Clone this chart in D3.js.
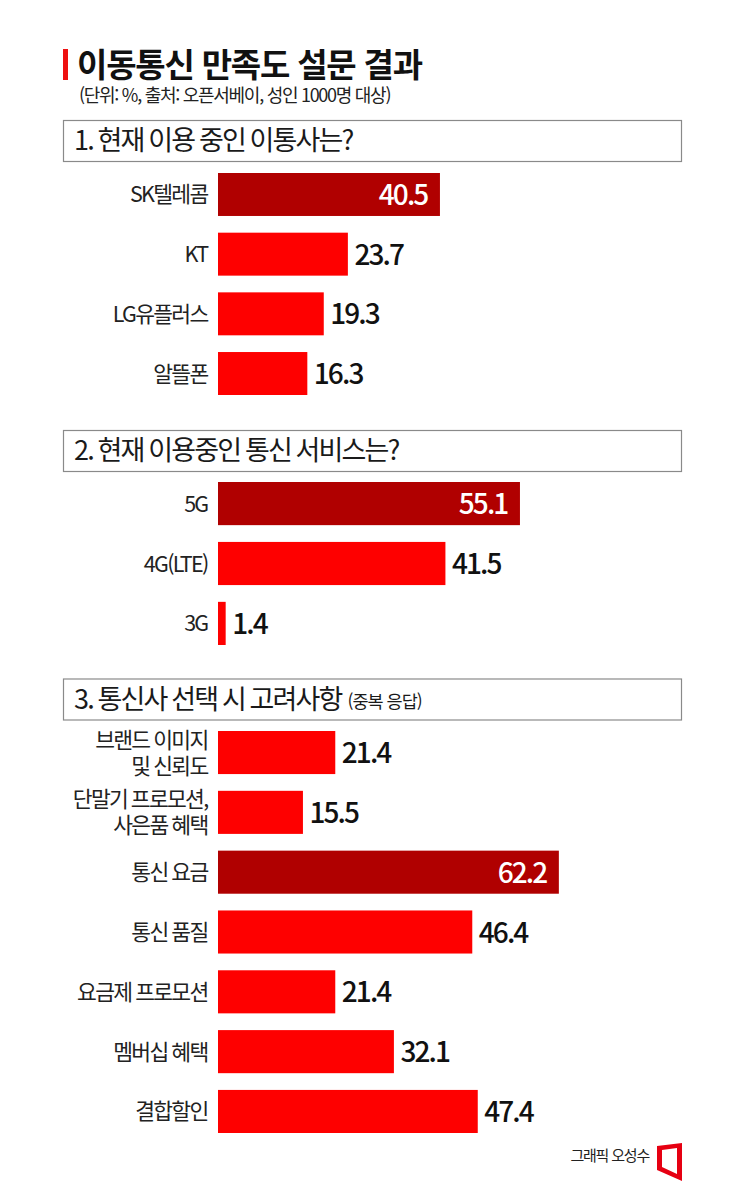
<!DOCTYPE html>
<html lang="ko"><head><meta charset="utf-8">
<script src="https://cdn.jsdelivr.net/npm/d3@7"></script>
<style>
html,body{margin:0;padding:0;background:#fff}
svg{display:block}
text{font-family:"Noto Sans CJK KR","Noto Sans",sans-serif}
</style></head><body>
<div id="chart"></div>
<script>
const titleText = "이동통신 만족도 설문 결과";
const subtitleText = "(단위: %, 출처: 오픈서베이, 성인 1000명 대상)";
const creditText = "그래픽 오성수";

const headers1 = ["1. 현재 이용 중인 이통사는?"];
const cats1 = ["SK텔레콤","KT","LG유플러스","알뜰폰"];
const vals1 = [40.5,23.7,19.3,16.3];
const headers2 = ["2. 현재 이용중인 통신 서비스는?"];
const cats2 = ["5G","4G(LTE)","3G"];
const vals2 = [55.1,41.5,1.4];
const headers3 = ["3. 통신사 선택 시 고려사항", "(중복 응답)"];
const cats3 = ["브랜드 이미지|및 신뢰도","단말기 프로모션,|사은품 혜택","통신 요금","통신 품질","요금제 프로모션","멤버십 혜택","결합할인"];
const vals3 = [21.4,15.5,62.2,46.4,21.4,32.1,47.4];

const W=745,H=1184,RED="#fe0000",DARK="#b00000";
const svg=d3.select("#chart").append("svg").attr("width",W).attr("height",H).attr("viewBox",[0,0,W,H]);
const x=d3.scaleLinear().domain([0,100]).range([218,766]);

svg.append("rect").attr("x",63).attr("y",49).attr("width",5).attr("height",31).attr("fill","#ee1111");
svg.append("text").attr("x",77).attr("y",77).attr("font-size",33).attr("font-weight",700).attr("letter-spacing",-1.2).attr("word-spacing",0).attr("fill","#111").text(titleText);
svg.append("text").attr("x",79).attr("y",102).attr("font-size",18).attr("letter-spacing",-1.28).attr("fill","#222").text(subtitleText);

function section(header,cats,vals,boxY,y0,y1){
  svg.append("rect").attr("x",63.5).attr("y",boxY+.5).attr("width",618).attr("height",41).attr("fill","#fff").attr("stroke","#8a8a8a").attr("stroke-width",1.2);
  const t=svg.append("text").attr("x",74).attr("y",boxY+30).attr("font-size",27).attr("letter-spacing",-1.85).attr("word-spacing",-1).attr("fill","#1a1a1a");
  t.append("tspan").text(header[0]);
  if(header[1]) t.append("tspan").attr("dx",6).attr("font-size",17.5).attr("letter-spacing",-1).attr("word-spacing",0).attr("dy",-1).text(header[1]);
  const y=d3.scaleBand().domain(cats).range([y0,y1]).paddingInner(0.28).paddingOuter(0);
  const max=d3.max(vals);
  const g=svg.append("g");
  cats.forEach((c,i)=>{
    const v=vals[i],by=y(c),bh=y.bandwidth(),top=v===max;
    g.append("rect").attr("x",x(0)).attr("y",by).attr("width",x(v)-x(0)).attr("height",bh).attr("fill",top?DARK:RED);
    const lines=c.split("|"),cy=by+bh/2;
    lines.forEach((l,k)=>{
      g.append("text").attr("x",207.5).attr("y",cy+(k-(lines.length-1)/2)*26+8)
       .attr("text-anchor","end").attr("font-size",21.5).attr("letter-spacing",-1.7).attr("word-spacing",-0.5).attr("fill","#222").text(l);
    });
    const val=g.append("text").attr("y",cy+10.5).attr("font-size",28).attr("font-weight",500).attr("letter-spacing",-1.9).text(v.toFixed(1));
    if(top) val.attr("x",x(v)-12.5).attr("text-anchor","end").attr("fill","#fff");
    else val.attr("x",x(v)+6.5).attr("fill","#111");
  });
}
section(headers1,cats1,vals1,120,173,395);
section(headers2,cats2,vals2,430,482,645);
section(headers3,cats3,vals3,678.5,731,1133);

svg.append("text").attr("x",649).attr("y",1161).attr("text-anchor","end").attr("font-size",15).attr("letter-spacing",-1.2).attr("fill","#222").text(creditText);
svg.append("path").attr("fill","#e60012").attr("fill-rule","evenodd")
 .attr("d",d3.line()([[657,1146],[682,1143],[682,1181],[657,1170],[657,1146]])+"M662,1150L677,1148L677,1174L662,1167Z");
</script></body></html>
